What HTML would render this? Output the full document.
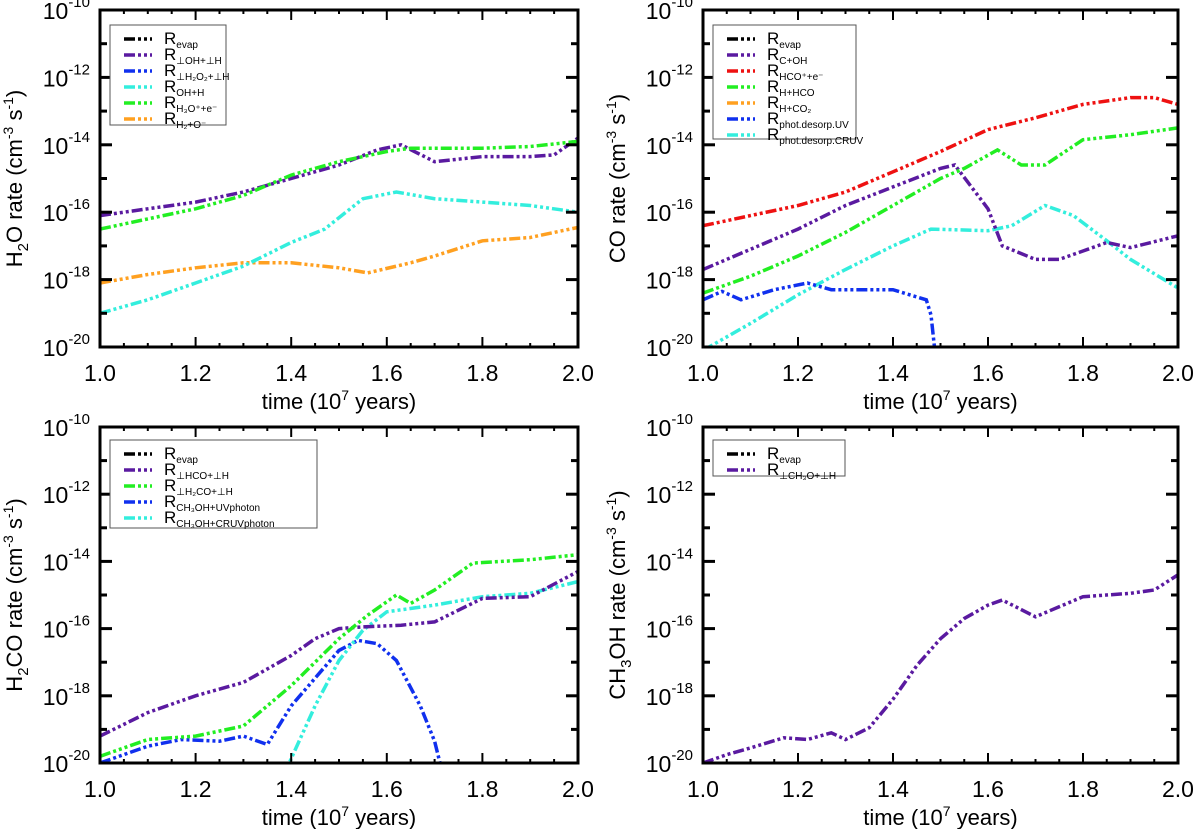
<!DOCTYPE html>
<html><head><meta charset="utf-8"><style>
body{margin:0;background:#fff;}
svg text{font-family:"Liberation Sans",Helvetica,sans-serif;fill:#000;}
</style></head><body>
<svg id="fig" width="1200" height="829" xmlns="http://www.w3.org/2000/svg"></svg>
<script>
const times = [1.0,1.05,1.1,1.15,1.2,1.25,1.3,1.35,1.4,1.45,1.5,1.55,1.6,1.65,1.7,1.75,1.8,1.85,1.9,1.95,2.0];
// Panel 1 (H2O)
const h2o_OH_H_surf_t = [1.0,1.1,1.2,1.3,1.4,1.5,1.58,1.63,1.7,1.8,1.9,1.95,2.0];
const h2o_OH_H_surf_v = [-16.1,-15.9,-15.7,-15.4,-15.0,-14.6,-14.15,-14.0,-14.5,-14.35,-14.35,-14.3,-13.8];
const h2o_H3O_t = [1.0,1.1,1.2,1.3,1.4,1.5,1.6,1.65,1.8,1.9,2.0];
const h2o_H3O_v = [-16.5,-16.2,-15.9,-15.5,-14.9,-14.5,-14.2,-14.1,-14.1,-14.05,-13.9];
const h2o_OHH_t = [1.0,1.1,1.2,1.3,1.4,1.47,1.55,1.62,1.7,1.8,1.9,2.0];
const h2o_OHH_v = [-19.0,-18.6,-18.1,-17.6,-16.9,-16.5,-15.6,-15.4,-15.6,-15.7,-15.8,-16.0];
const h2o_H2O_t = [1.0,1.1,1.2,1.3,1.4,1.5,1.56,1.65,1.7,1.8,1.9,2.0];
const h2o_H2O_v = [-18.1,-17.85,-17.65,-17.5,-17.5,-17.65,-17.8,-17.5,-17.3,-16.85,-16.75,-16.45];
// Panel 2 (CO)
const co_HCO_e_t = [1.0,1.1,1.2,1.3,1.4,1.5,1.6,1.7,1.8,1.9,1.95,2.0];
const co_HCO_e_v = [-16.4,-16.1,-15.8,-15.4,-14.8,-14.2,-13.55,-13.2,-12.8,-12.6,-12.6,-12.8];
const co_C_OH_t = [1.0,1.1,1.2,1.3,1.4,1.5,1.53,1.6,1.63,1.7,1.75,1.8,1.85,1.9,2.0];
const co_C_OH_v = [-17.7,-17.1,-16.5,-15.8,-15.25,-14.7,-14.6,-15.9,-17.0,-17.4,-17.4,-17.15,-16.9,-17.05,-16.7];
const co_H_HCO_t = [1.0,1.1,1.2,1.3,1.4,1.5,1.55,1.62,1.67,1.72,1.8,1.9,2.0];
const co_H_HCO_v = [-18.4,-17.9,-17.3,-16.6,-15.8,-15.0,-14.7,-14.15,-14.6,-14.6,-13.85,-13.7,-13.5];
const co_UV_t = [1.0,1.04,1.08,1.15,1.22,1.27,1.4,1.47,1.48,1.495];
const co_UV_v = [-18.6,-18.35,-18.6,-18.3,-18.1,-18.3,-18.3,-18.6,-19.05,-21];
const co_CRUV_t = [1.0,1.1,1.2,1.3,1.4,1.48,1.6,1.65,1.72,1.78,1.85,1.9,2.0];
const co_CRUV_v = [-20.1,-19.3,-18.45,-17.7,-17.0,-16.5,-16.55,-16.4,-15.8,-16.1,-16.85,-17.4,-18.25];
// Panel 3 (H2CO)
const h2co_HCO_t = [1.0,1.1,1.2,1.3,1.4,1.45,1.5,1.55,1.63,1.7,1.8,1.9,2.0];
const h2co_HCO_v = [-19.2,-18.5,-18.0,-17.6,-16.8,-16.3,-16.0,-15.95,-15.9,-15.8,-15.1,-15.05,-14.3];
const h2co_H2CO_t = [1.0,1.1,1.2,1.3,1.4,1.5,1.56,1.62,1.65,1.7,1.78,1.9,2.0];
const h2co_H2CO_v = [-19.8,-19.3,-19.2,-18.9,-17.7,-16.3,-15.6,-15.0,-15.25,-14.85,-14.05,-13.95,-13.8];
const h2co_UV_t = [1.0,1.1,1.17,1.25,1.3,1.35,1.4,1.5,1.54,1.58,1.62,1.67,1.7,1.72];
const h2co_UV_v = [-20.0,-19.5,-19.3,-19.35,-19.2,-19.45,-18.3,-16.65,-16.35,-16.45,-16.95,-18.3,-19.35,-20.5];
const h2co_CRUV_t = [1.38,1.45,1.5,1.55,1.6,1.7,1.8,1.9,2.0];
const h2co_CRUV_v = [-20.5,-18.3,-16.95,-16.05,-15.5,-15.3,-15.05,-14.95,-14.6];
// Panel 4 (CH3OH)
const ch3oh_t = [1.0,1.05,1.1,1.17,1.22,1.27,1.3,1.35,1.4,1.45,1.5,1.55,1.6,1.63,1.7,1.8,1.9,1.95,2.0];
const ch3oh_v = [-20.0,-19.75,-19.55,-19.25,-19.3,-19.1,-19.3,-18.95,-18.1,-17.1,-16.3,-15.7,-15.3,-15.15,-15.65,-15.05,-14.95,-14.85,-14.4];
const xTicks = [1.0,1.2,1.4,1.6,1.8,2.0];
const yTickExp = [-20,-18,-16,-14,-12,-10];

const C = {purple:'#5a1aa0',green:'#22ee22',cyan:'#33eedd',orange:'#ffa020',red:'#ee1111',blue:'#1030ee',black:'#000'};
const NS='http://www.w3.org/2000/svg';
const svg=document.getElementById('fig');
function el(tag,attrs,parent){const e=document.createElementNS(NS,tag);for(const k in attrs)e.setAttribute(k,attrs[k]);(parent||svg).appendChild(e);return e;}
const DASH='11 3 3 3 3 3 3 3';

function panel(id,L,T,R,B,ylabelHTML,series,legend,legendBox){
  const g=el('g',{});
  
  
  const xs=v=>L+(v-1)/(1)*(R-L);
  const ys=v=>T+(-10-v)/10*(B-T);
  const cid='clip-'+id;
  const cp=el('clipPath',{id:cid},g);el('rect',{x:L,y:T,width:R-L,height:B-T},cp);
  // series
  const sg=el('g',{'clip-path':'url(#'+cid+')'},g);
  series.forEach(s=>{
    const d=s.t.map((t,i)=>(i?'L':'M')+xs(t).toFixed(1)+','+ys(s.v[i]).toFixed(1)).join('');
    const p=el('path',{d:d,fill:'none',stroke:s.c,'stroke-width':3.5,'stroke-dasharray':DASH},sg);
    
    
  });
  // frame
  const fr=el('rect',{x:L,y:T,width:R-L,height:B-T,fill:'none',stroke:'#000','stroke-width':3},g);
  
  
  // x ticks
  for(let v=1.0;v<=2.0001;v+=0.05){
    const major=Math.abs(v*5-Math.round(v*5))<1e-6;const len=major?10:4;
    el('line',{x1:xs(v),x2:xs(v),y1:B,y2:B-len,stroke:'#000','stroke-width':2},g);
    el('line',{x1:xs(v),x2:xs(v),y1:T,y2:T+len,stroke:'#000','stroke-width':2},g);
  }
  xTicks.forEach(v=>{const t=el('text',{x:xs(v),y:B+34,'font-size':23,'text-anchor':'middle'},g);t.textContent=v.toFixed(1);
    });
  for(let e=-20;e<=-10;e++){
    const len=(e%2===0)?12:7;
    el('line',{x1:L,x2:L+len,y1:ys(e),y2:ys(e),stroke:'#000','stroke-width':3},g);
    el('line',{x1:R,x2:R-len,y1:ys(e),y2:ys(e),stroke:'#000','stroke-width':3},g);
  }
  yTickExp.forEach(e=>{const t=el('text',{x:L-10,y:ys(e)+9,'font-size':23,'text-anchor':'end'},g);
    t.innerHTML='10<tspan dy="-12" font-size="15">'+e+'</tspan>';
    });
  const xt=el('text',{x:(L+R)/2,y:B+62,'font-size':22,'text-anchor':'middle'},g);
  xt.innerHTML='time (10<tspan dy="-9" font-size="14">7</tspan><tspan dy="9"> years)</tspan>';
  
  const yt=el('text',{transform:'translate('+(L-78)+','+((T+B)/2)+') rotate(-90)','font-size':22,'text-anchor':'middle'},g);
  yt.innerHTML=ylabelHTML;
  
  // legend
  const lg=el('g',{},g);
  
  el('rect',{x:legendBox[0],y:legendBox[1],width:legendBox[2],height:legendBox[3],fill:'#fff',stroke:'#555','stroke-width':1},lg);
  legend.forEach((it,i)=>{
    const y=legendBox[1]+14+i*16;
    const x0=legendBox[0]+14;
    const ln=el('line',{x1:x0,x2:x0+28,y1:y,y2:y,stroke:it[0],'stroke-width':3.5,'stroke-dasharray':'11 3 3 3 3 3 3 3'},lg);
    
    const t=el('text',{x:x0+40,y:y+5,'font-size':17},lg);
    t.innerHTML='R<tspan dy="4" font-size="10">'+it[1]+'</tspan>';
    
  });
}
const sup=(s)=>'<tspan dy="-4" font-size="7">'+s+'</tspan><tspan dy="4">';
panel('h2o',100,10,578,347,'H<tspan dy="6" font-size="15">2</tspan><tspan dy="-6">O rate (cm</tspan><tspan dy="-9" font-size="14">-3</tspan><tspan dy="9"> s</tspan><tspan dy="-9" font-size="14">-1</tspan><tspan dy="9">)</tspan>',
 [{name:'series-h2o-plus-o',t:h2o_H2O_t,v:h2o_H2O_v,c:C.orange},
  {name:'series-oh-plus-h',t:h2o_OHH_t,v:h2o_OHH_v,c:C.cyan},
  {name:'series-surf-oh-plus-h',t:h2o_OH_H_surf_t,v:h2o_OH_H_surf_v,c:C.purple},
  {name:'series-h3o-plus-e',t:h2o_H3O_t,v:h2o_H3O_v,c:C.green}],
 [[C.black,'evap'],[C.purple,'⊥OH+⊥H'],[C.blue,'⊥H₂O₂+⊥H'],[C.cyan,'OH+H'],[C.green,'H₃O⁺+e⁻'],[C.orange,'H₂+O⁻']],
 [110,25,116,100]);
panel('co',703,10,1178,347,'CO rate (cm<tspan dy="-9" font-size="14">-3</tspan><tspan dy="9"> s</tspan><tspan dy="-9" font-size="14">-1</tspan><tspan dy="9">)</tspan>',
 [{name:'series-phot-desorp-cruv',t:co_CRUV_t,v:co_CRUV_v,c:C.cyan},
  {name:'series-phot-desorp-uv',t:co_UV_t,v:co_UV_v,c:C.blue},
  {name:'series-c-plus-oh',t:co_C_OH_t,v:co_C_OH_v,c:C.purple},
  {name:'series-h-plus-hco',t:co_H_HCO_t,v:co_H_HCO_v,c:C.green},
  {name:'series-hco-plus-e',t:co_HCO_e_t,v:co_HCO_e_v,c:C.red}],
 [[C.black,'evap'],[C.purple,'C+OH'],[C.red,'HCO⁺+e⁻'],[C.green,'H+HCO'],[C.orange,'H+CO₂'],[C.blue,'phot.desorp.UV'],[C.cyan,'phot.desorp.CRUV']],
 [713,25,143,114]);
panel('h2co',100,427,578,763,'H<tspan dy="6" font-size="15">2</tspan><tspan dy="-6">CO rate (cm</tspan><tspan dy="-9" font-size="14">-3</tspan><tspan dy="9"> s</tspan><tspan dy="-9" font-size="14">-1</tspan><tspan dy="9">)</tspan>',
 [{name:'series-ch3oh-uvphoton',t:h2co_UV_t,v:h2co_UV_v,c:C.blue},
  {name:'series-ch3oh-cruvphoton',t:h2co_CRUV_t,v:h2co_CRUV_v,c:C.cyan},
  {name:'series-surf-hco-plus-h',t:h2co_HCO_t,v:h2co_HCO_v,c:C.purple},
  {name:'series-surf-h2co-plus-h',t:h2co_H2CO_t,v:h2co_H2CO_v,c:C.green}],
 [[C.black,'evap'],[C.purple,'⊥HCO+⊥H'],[C.green,'⊥H₂CO+⊥H'],[C.blue,'CH₃OH+UVphoton'],[C.cyan,'CH₃OH+CRUVphoton']],
 [110,440,207,88]);
panel('ch3oh',703,427,1178,763,'CH<tspan dy="6" font-size="15">3</tspan><tspan dy="-6">OH rate (cm</tspan><tspan dy="-9" font-size="14">-3</tspan><tspan dy="9"> s</tspan><tspan dy="-9" font-size="14">-1</tspan><tspan dy="9">)</tspan>',
 [{name:'series-surf-ch3o-plus-h',t:ch3oh_t,v:ch3oh_v,c:C.purple}],
 [[C.black,'evap'],[C.purple,'⊥CH₃O+⊥H']],
 [713,440,132,36]);
</script>
</body></html>
